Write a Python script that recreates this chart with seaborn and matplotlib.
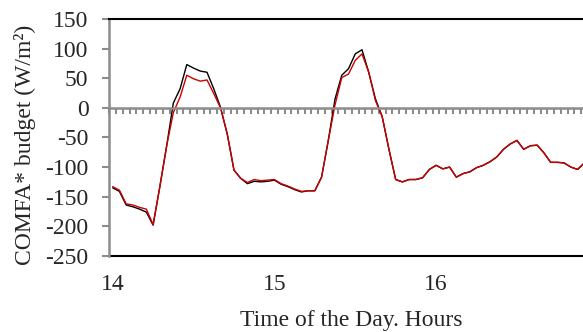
import numpy as np
import pandas as pd
import matplotlib
matplotlib.use('Agg')
import matplotlib.pyplot as plt
import seaborn as sns

# one value every 2.5 minutes starting at 14:00 (24 per hour)
hour_labels = ['14', '15', '16']
hour_positions = [0, 24, 48]

budget_black = [-135, -141, -164, -167, -171, -176, -198, -133, -65, 8,
                32, 73, 67, 62, 60, 32, 1, -44, -105, -119,
                -128, -124, -125, -124, -122, -129, -133, -138, -142, -140,
                -140, -117, -55, 15, 55, 66, 91, 98, 60, 15,
                -15, -70, -121, -125, -121, -121, -118, -104, -97, -103,
                -100, -117, -111, -108, -101, -97, -91, -83, -70, -61,
                -55, -70, -64, -63, -76, -92, -92, -93, -100, -104, -93]
budget_red = [-133, -139, -162, -164, -168, -171, -197, -133, -65, -8,
              18, 55, 49, 45, 47, 24, 0, -44, -105, -119,
              -126, -121, -123, -122, -121, -128, -132, -137, -141, -140,
              -140, -117, -55, 5, 51, 57, 80, 91, 60, 12,
              -15, -70, -121, -125, -121, -121, -118, -104, -97, -103,
              -100, -117, -111, -108, -101, -97, -91, -83, -70, -61,
              -55, -70, -64, -63, -76, -92, -92, -93, -100, -104, -93]

idx = np.arange(len(budget_black))
df = pd.concat([
    pd.DataFrame({'step': idx, 'budget': budget_black, 'series': 'black'}),
    pd.DataFrame({'step': idx, 'budget': budget_red, 'series': 'red'}),
])

sns.set_theme(style='white')
plt.rcParams['font.family'] = ['Liberation Serif', 'DejaVu Serif']
plt.rcParams['axes.unicode_minus'] = False

fig = plt.figure(figsize=(5.83, 3.32), dpi=100)
ax = fig.add_axes([0.1875, 0.229, 0.8125, 0.714])

sns.lineplot(data=df, x='step', y='budget', hue='series',
             palette={'black': 'black', 'red': '#CC0000'},
             linewidth=1.0, legend=False, ax=ax)

ax.set_xlim(-0.5, 69.8)
ax.set_ylim(-250, 150)
ax.set_yticks(np.arange(-250, 151, 50))
ax.tick_params(axis='y', labelsize=17, length=5, width=1.5, color='#8c8c8c',
               pad=10, left=True)
ax.set_ylabel('COMFA* budget (W/m²)', fontsize=17)
ax.yaxis.set_label_coords(-0.155, 0.47)
ax.set_xlabel('')

# category axis crossing at zero, tick marks between points
ax.spines['bottom'].set_position(('data', 0))
ax.spines['bottom'].set_color('#8c8c8c')
ax.spines['bottom'].set_linewidth(1.8)
ax.set_xticks(np.arange(-0.5, 70, 1))
ax.set_xticklabels([])
ax.tick_params(axis='x', bottom=True, length=4.5, width=1.5,
               color='#8c8c8c', direction='out')

ax.spines['left'].set_color('#8c8c8c')
ax.spines['left'].set_linewidth(1.8)
ax.spines['top'].set_color('black')
ax.spines['top'].set_linewidth(1.5)
ax.spines['right'].set_visible(False)

# hour labels below the plot frame
sec = ax.secondary_xaxis(0.0)
sec.set_xticks(hour_positions, labels=hour_labels)
sec.tick_params(length=0, pad=13, labelsize=17)
sec.spines['bottom'].set_color('black')
sec.spines['bottom'].set_linewidth(1.5)
sec.set_xlabel('Time of the Day. Hours', fontsize=17)
sec.xaxis.set_label_coords(0.602, 0.065, transform=fig.transFigure)

fig.savefig('out.png', dpi=100)
plt.close()
